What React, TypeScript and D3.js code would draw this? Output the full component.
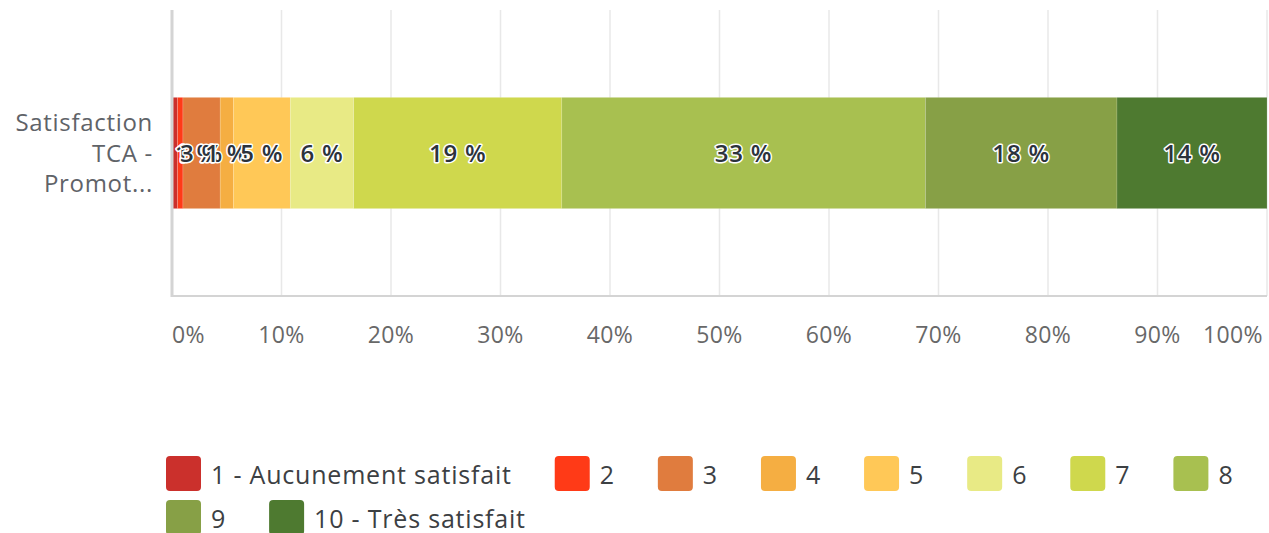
import * as React from 'react'
import * as d3 from 'd3'

const categories = ['Satisfaction TCA - Promot...'];
const categoryLines = ['Satisfaction', 'TCA -', 'Promot...'];
const seriesNames = ['1 - Aucunement satisfait', '2', '3', '4', '5', '6', '7', '8', '9', '10 - Très satisfait'];
const seriesValues = [0.5, 0.5, 3.4, 1.2, 5.2, 5.8, 19.0, 33.2, 17.5, 13.7];
const seriesColors = ['#cb302c', '#ff3a17', '#e07c3e', '#f5ae42', '#ffc857', '#e8ea85', '#cfd84d', '#a8c050', '#87a046', '#4e7a30'];
const tickValues = [0, 10, 20, 30, 40, 50, 60, 70, 80, 90, 100];

const W = 1269;
const H = 533;
const FONT = '"Open Sans", Roboto, sans-serif';

const App = () => {
    const ref = React.useRef<SVGSVGElement>(null);

    React.useEffect(() => {
        const svg = d3.select(ref.current);
        svg.selectAll('*').remove();

        const plot = { left: 172, right: 1267, top: 10, bottom: 296 };

        const x = d3.scaleLinear().domain([0, 100]).range([plot.left, plot.right]);
        const y = d3.scaleBand().domain(categories).range([plot.top, plot.bottom])
            .paddingInner(0.44).paddingOuter(0.44);

        // gridlines
        svg.append('g').selectAll('line').data(tickValues.slice(1)).join('line')
            .attr('x1', d => x(d)).attr('x2', d => x(d))
            .attr('y1', plot.top).attr('y2', plot.bottom)
            .attr('stroke', '#e8e8e8').attr('stroke-width', 1.5);

        // stacked segments
        const stack = d3.stack<any>().keys(seriesNames.map((_, i) => String(i)));
        const row: any = { cat: categories[0] };
        seriesValues.forEach((v, i) => { row[String(i)] = v; });
        const layers = stack([row]);

        const bw = y.bandwidth();
        const by = y(categories[0]) as number;

        svg.append('g').selectAll('rect').data(layers).join('rect')
            .attr('x', d => x(d[0][0]))
            .attr('width', d => x(d[0][1]) - x(d[0][0]))
            .attr('y', by).attr('height', bw)
            .attr('fill', (d, i) => seriesColors[i])
            .attr('stroke', '#ffffff').attr('stroke-opacity', 0.25).attr('stroke-width', 0.6);

        // axis lines
        svg.append('line').attr('x1', plot.left).attr('x2', plot.right)
            .attr('y1', plot.bottom).attr('y2', plot.bottom)
            .attr('stroke', '#d4d4d4').attr('stroke-width', 2);
        svg.append('line').attr('x1', plot.left).attr('x2', plot.left)
            .attr('y1', plot.top).attr('y2', plot.bottom + 1)
            .attr('stroke', '#d4d4d4').attr('stroke-width', 3);

        // data labels
        const lbl = svg.append('g')
            .attr('font-family', FONT).attr('font-size', 24).attr('font-weight', 600)
            .attr('letter-spacing', 0.8)
            .attr('fill', '#2c333c').attr('stroke', '#ffffff').attr('stroke-width', 3)
            .attr('stroke-linejoin', 'round').attr('paint-order', 'stroke');
        layers.forEach((d) => {
            const cx = (x(d[0][0]) + x(d[0][1])) / 2;
            const t = lbl.append('text')
                .attr('y', by + bw / 2).attr('dy', '0.36em')
                .attr('text-anchor', 'middle')
                .text(`${Math.round(d[0][1] - d[0][0])} %`);
            const w = (t.node() as SVGTextElement).getComputedTextLength();
            t.attr('x', Math.max(cx, plot.left + 3 + w / 2));
        });

        // category label
        const cat = svg.append('text')
            .attr('font-family', FONT).attr('font-size', 24).attr('fill', '#5f6368')
            .attr('letter-spacing', 0.7)
            .attr('text-anchor', 'end');
        categoryLines.forEach((l, i) => {
            cat.append('tspan').attr('x', 153).attr('y', by + bw / 2 - 22 + i * 30.5).text(l);
        });

        // x tick labels
        svg.append('g').selectAll('text').data(tickValues).join('text')
            .attr('font-family', FONT).attr('font-size', 23).attr('fill', '#686868')
            .attr('letter-spacing', 0.4)
            .attr('x', d => d === 0 ? x(d) : d === 100 ? x(d) - 4 : x(d))
            .attr('y', 343)
            .attr('text-anchor', d => d === 0 ? 'start' : d === 100 ? 'end' : 'middle')
            .text(d => `${d}%`);

        // legend
        const leg = svg.append('g').attr('font-family', FONT).attr('font-size', 25)
            .attr('letter-spacing', 0.8).attr('fill', '#3c4043');
        const sym = 35;
        const startX = 166;
        let lx = startX;
        let ly = 456;
        seriesNames.forEach((name, i) => {
            const g = leg.append('g');
            const t = g.append('text').text(name);
            const tw = (t.node() as SVGTextElement).getComputedTextLength();
            const itemW = sym + 10 + tw;
            if (lx + itemW > W - 15 && lx > startX) {
                lx = startX;
                ly += 44;
            }
            g.insert('rect', 'text').attr('x', lx).attr('y', ly).attr('width', sym).attr('height', sym)
                .attr('rx', 4).attr('fill', seriesColors[i]);
            t.attr('x', lx + sym + 10).attr('y', ly + 28);
            lx += itemW + 43;
        });
    }, []);

    return (
        <svg ref={ref} width={W} height={H}
            style={{ position: 'absolute', left: 0, top: 0, background: '#ffffff' }} />
    )
}

export default App;
